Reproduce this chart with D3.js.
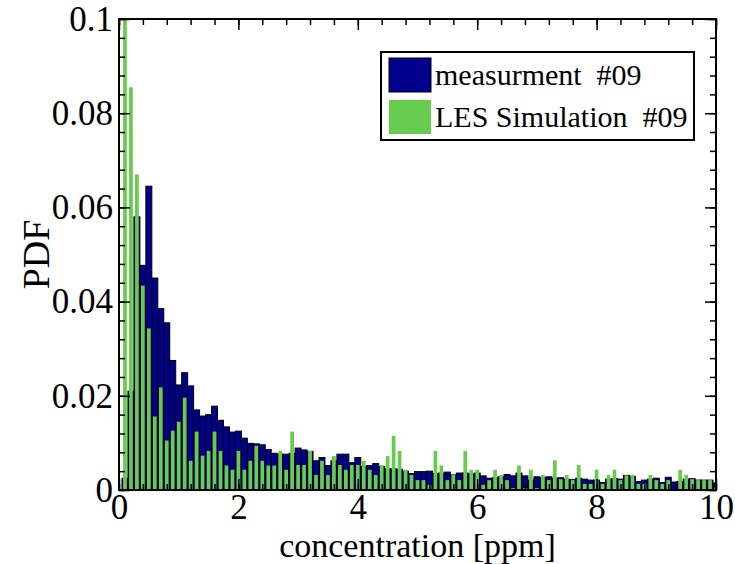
<!DOCTYPE html>
<html>
<head>
<meta charset="utf-8">
<script src="https://cdn.jsdelivr.net/npm/d3@7"></script>
<style>
  body { margin: 0; background: #fff; }
  text { font-family: "Liberation Serif", "Times New Roman", serif; fill: #000; }
</style>
</head>
<body>
<div id="chart"></div>
<script>
// bin centres 0.1 ... 10.0 (bin width 0.1)
const binCenters = d3.range(1, 101).map(k => k / 10);

const measurement = [
  0.0025, 0.021, 0.058, 0.0477, 0.0645, 0.045, 0.0385, 0.0355, 0.0275, 0.0223,
  0.0249, 0.0221, 0.017, 0.0157, 0.016, 0.0178, 0.0148, 0.0134, 0.0123, 0.0125,
  0.011, 0.0099, 0.0098, 0.0096, 0.0086, 0.0078, 0.0076, 0.0076, 0.0078, 0.0089,
  0.0085, 0.0082, 0.0062, 0.0069, 0.0052, 0.0062, 0.0076, 0.0076, 0.0058, 0.0069,
  0.005, 0.0052, 0.0056, 0.005, 0.0045, 0.0045, 0.0044, 0.004, 0.0035, 0.0039,
  0.0039, 0.004, 0.0035, 0.0036, 0.0038, 0.0032, 0.0036, 0.0036, 0.0034, 0.0036,
  0.003, 0.0025, 0.0026, 0.0028, 0.0033, 0.003, 0.0036, 0.003, 0.0021, 0.0028,
  0.0026, 0.0028, 0.0025, 0.0026, 0.0023, 0.0022, 0.0025, 0.0023, 0.0021, 0.0021,
  0.0016, 0.0023, 0.0024, 0.0023, 0.0031, 0.0029, 0.0018, 0.0021, 0.0023, 0.0025,
  0.0016, 0.0027, 0.0017, 0.0018, 0.0023, 0.0024, 0.0021, 0.0021, 0.0021, 0.0015
];

const simulation = [
  0.1, 0.0855, 0.067, 0.0434, 0.0343, 0.0156, 0.0218, 0.0105, 0.0126, 0.0145,
  0.0196, 0.0062, 0.0124, 0.0073, 0.0083, 0.0124, 0.0083, 0.0052, 0.0043, 0.0083,
  0.0043, 0.0062, 0.0094, 0.0062, 0.0052, 0.0052, 0.0083, 0.0043, 0.0124, 0.0053,
  0.0053, 0.0083, 0.0032, 0.0062, 0.0032, 0.0072, 0.0053, 0.0043, 0.0053, 0.0053,
  0.0062, 0.0043, 0.0032, 0.0053, 0.0072, 0.0115, 0.0083, 0.0043, 0.0032, 0.0021,
  0.0021, 0.0011, 0.0083, 0.0052, 0.0021, 0.0032, 0.0021, 0.0083, 0.0043, 0.0043,
  0.0011, 0.0021, 0.0043, 0.0032, 0.0021, 0.0004, 0.0052, 0.0004, 0.0043, 0.0004,
  0.0032, 0.0021, 0.0063, 0.0023, 0.0032, 0.0021, 0.0053, 0.0013, 0.0013, 0.0043,
  0.0013, 0.0032, 0.0043, 0.0021, 0.0031, 0.0032, 0.0013, 0.0013, 0.0032, 0.0021,
  0.0013, 0.0021, 0.0002, 0.0043, 0.0032, 0.0023, 0.0021, 0.0021, 0.0021, 0.0005
];

const seriesNames = ["measurment  #09", "LES Simulation  #09"];
const xTicks = [0, 2, 4, 6, 8, 10];
const yTicks = [0, 0.02, 0.04, 0.06, 0.08, 0.1];

const blue = "#00008C";
const green = "#66CC4D";
const binWidth = 0.1;

const margin = { top: 19, right: 19, bottom: 74, left: 119 };
const width = 735 - margin.left - margin.right;
const height = 564 - margin.top - margin.bottom;

const svg = d3.select("#chart")
  .append("svg")
  .attr("width", width + margin.left + margin.right)
  .attr("height", height + margin.top + margin.bottom)
  .append("g")
  .attr("transform", `translate(${margin.left},${margin.top})`);

const x = d3.scaleLinear().domain([0, 10]).range([0, width]);
const y = d3.scaleLinear().domain([0, 0.1]).range([height, 0]);

svg.append("clipPath").attr("id", "plotclip")
  .append("rect").attr("width", width).attr("height", height);

const bars = svg.append("g").attr("clip-path", "url(#plotclip)");
const bw = x(binWidth) - x(0);

bars.selectAll("rect.meas")
  .data(binCenters.map((c, i) => ({ c, v: measurement[i] })))
  .join("rect")
  .attr("class", "meas")
  .attr("x", d => x(d.c - binWidth / 2))
  .attr("y", d => y(d.v))
  .attr("width", bw)
  .attr("height", d => y(0) - y(d.v))
  .attr("fill", blue)
  .attr("stroke", "#000")
  .attr("stroke-width", 1);

const gw = bw * 0.62;
bars.selectAll("rect.sim")
  .data(binCenters.map((c, i) => ({ c, v: simulation[i] })))
  .join("rect")
  .attr("class", "sim")
  .attr("x", d => x(d.c) - gw / 2)
  .attr("y", d => y(d.v))
  .attr("width", gw)
  .attr("height", d => y(0) - y(d.v))
  .attr("fill", green);

// ticks on all four sides, pointing inward
const xMinor = d3.range(0, 10.001, 0.4);
const yMinor = d3.range(0, 0.1001, 0.004);
const fs = "35px";

function styleAxis(g) {
  g.select(".domain").remove();
  g.selectAll(".tick line").attr("stroke", "#000").attr("stroke-width", 1.5);
  g.selectAll("text").style("font-size", fs).style("font-family", null);
}

svg.append("g").attr("transform", `translate(0,${height})`)
  .call(d3.axisBottom(x).tickValues(xMinor).tickSize(-6).tickFormat(""))
  .call(styleAxis);
svg.append("g").attr("transform", `translate(0,${height})`)
  .call(d3.axisBottom(x).tickValues(xTicks).tickSize(-11).tickPadding(4).tickFormat(d3.format("d")))
  .call(styleAxis);
svg.append("g")
  .call(d3.axisTop(x).tickValues(xMinor).tickSize(-6).tickFormat(""))
  .call(styleAxis);
svg.append("g")
  .call(d3.axisTop(x).tickValues(xTicks).tickSize(-11).tickFormat(""))
  .call(styleAxis);

svg.append("g")
  .call(d3.axisLeft(y).tickValues(yMinor).tickSize(-6).tickFormat(""))
  .call(styleAxis);
svg.append("g")
  .call(d3.axisLeft(y).tickValues(yTicks).tickSize(-11).tickPadding(6).tickFormat(d => d === 0 ? "0" : d3.format("")(+d.toFixed(2))))
  .call(styleAxis);
svg.append("g").attr("transform", `translate(${width},0)`)
  .call(d3.axisRight(y).tickValues(yMinor).tickSize(-6).tickFormat(""))
  .call(styleAxis);
svg.append("g").attr("transform", `translate(${width},0)`)
  .call(d3.axisRight(y).tickValues(yTicks).tickSize(-11).tickFormat(""))
  .call(styleAxis);

svg.append("rect")
  .attr("width", width).attr("height", height)
  .attr("fill", "none").attr("stroke", "#000").attr("stroke-width", 2);

svg.append("text")
  .attr("x", width / 2)
  .attr("y", height + 67)
  .attr("text-anchor", "middle")
  .style("font-size", "34px")
  .text("concentration [ppm]");

svg.append("text")
  .attr("transform", `translate(${-70},${height / 2}) rotate(-90)`)
  .attr("text-anchor", "middle")
  .style("font-size", "38px")
  .text("PDF");

// legend
const legend = svg.append("g").attr("transform", `translate(${x(0) + 262},${33})`);
legend.append("rect")
  .attr("width", 313).attr("height", 88)
  .attr("fill", "#fff").attr("stroke", "#000").attr("stroke-width", 2);
[blue, green].forEach((col, i) => {
  legend.append("rect")
    .attr("x", 8).attr("y", 6 + i * 42)
    .attr("width", 42).attr("height", 34)
    .attr("fill", col)
    .attr("stroke", i === 0 ? "#000" : "none");
  legend.append("text")
    .attr("x", 54).attr("y", 33 + i * 42)
    .style("font-size", "30px")
    .style("white-space", "pre")
    .text(seriesNames[i]);
});
</script>
</body>
</html>
